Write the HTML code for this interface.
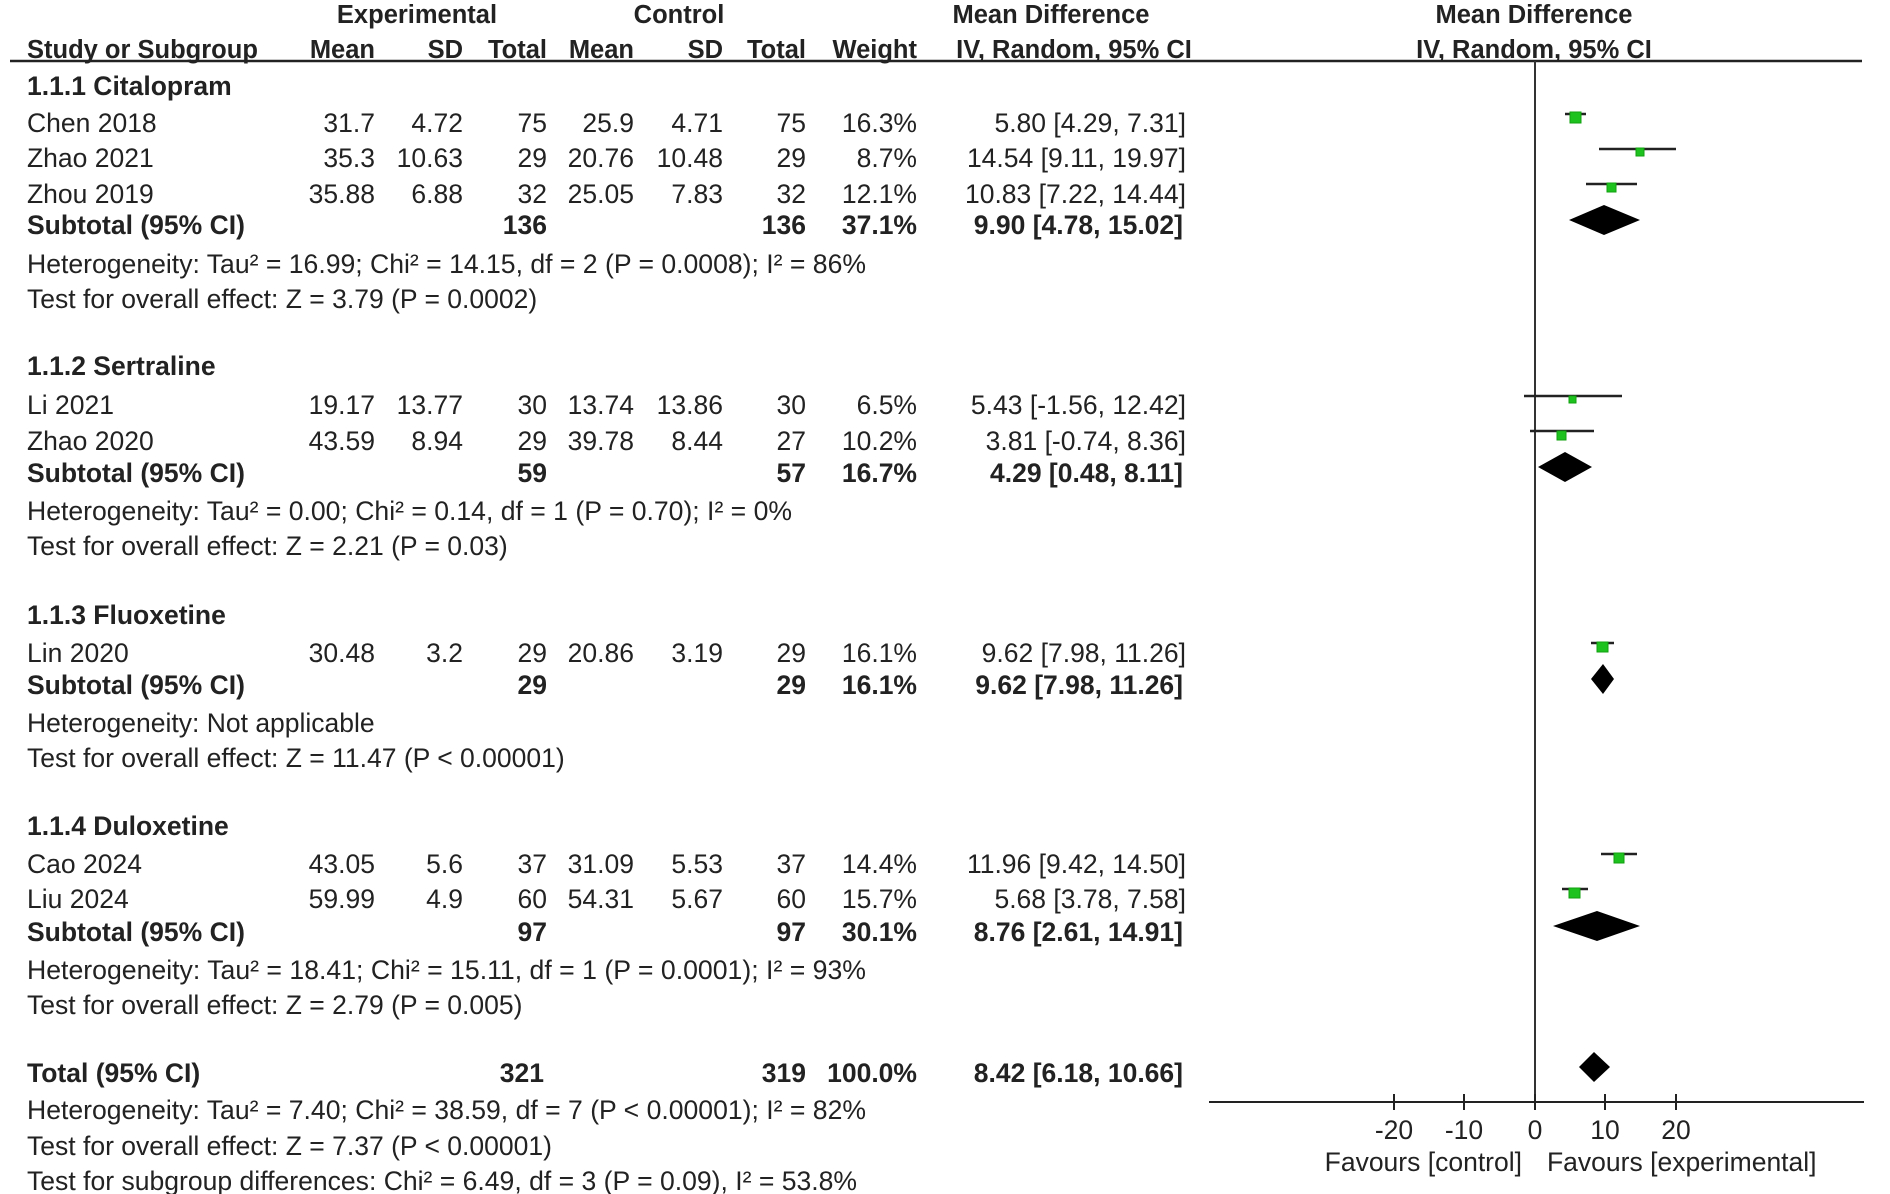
<!DOCTYPE html>
<html><head><meta charset="utf-8"><style>
html,body{margin:0;padding:0;background:#fff;}
svg{display:block;}
text{font-family:"Liberation Sans",Arial,sans-serif;font-size:26.5px;fill:#222;}
.b{font-weight:bold;}
.e{text-anchor:end;}
.m{text-anchor:middle;}
.s{font-size:25.5px;}
</style></head><body>
<svg width="1890" height="1194" viewBox="0 0 1890 1194" xmlns="http://www.w3.org/2000/svg">
<!-- headers -->
<text class="b m s" x="417" y="23">Experimental</text>
<text class="b m s" x="679" y="23">Control</text>
<text class="b m s" x="1051" y="23">Mean Difference</text>
<text class="b m s" x="1534" y="23">Mean Difference</text>
<text class="b s" x="27" y="58">Study or Subgroup</text>
<text class="b e s" x="375" y="58">Mean</text>
<text class="b e s" x="463" y="58">SD</text>
<text class="b e s" x="547" y="58">Total</text>
<text class="b e s" x="634" y="58">Mean</text>
<text class="b e s" x="723" y="58">SD</text>
<text class="b e s" x="806" y="58">Total</text>
<text class="b e s" x="917" y="58">Weight</text>
<text class="b m s" x="1074" y="58">IV, Random, 95% CI</text>
<text class="b m s" x="1534" y="58">IV, Random, 95% CI</text>
<line x1="10" y1="61" x2="1862" y2="61" stroke="#222" stroke-width="2.5"/>

<text class="b" x="27" y="95">1.1.1 Citalopram</text>
<text x="27" y="132">Chen 2018</text><text class="e" x="375" y="132">31.7</text><text class="e" x="463" y="132">4.72</text><text class="e" x="547" y="132">75</text><text class="e" x="634" y="132">25.9</text><text class="e" x="723" y="132">4.71</text><text class="e" x="806" y="132">75</text><text class="e" x="917" y="132">16.3%</text><text class="e" x="1186" y="132">5.80 [4.29, 7.31]</text>
<text x="27" y="167">Zhao 2021</text><text class="e" x="375" y="167">35.3</text><text class="e" x="463" y="167">10.63</text><text class="e" x="547" y="167">29</text><text class="e" x="634" y="167">20.76</text><text class="e" x="723" y="167">10.48</text><text class="e" x="806" y="167">29</text><text class="e" x="917" y="167">8.7%</text><text class="e" x="1186" y="167">14.54 [9.11, 19.97]</text>
<text x="27" y="203">Zhou 2019</text><text class="e" x="375" y="203">35.88</text><text class="e" x="463" y="203">6.88</text><text class="e" x="547" y="203">32</text><text class="e" x="634" y="203">25.05</text><text class="e" x="723" y="203">7.83</text><text class="e" x="806" y="203">32</text><text class="e" x="917" y="203">12.1%</text><text class="e" x="1186" y="203">10.83 [7.22, 14.44]</text>
<text class="b" x="27" y="234">Subtotal (95% CI)</text><text class="b e" x="547" y="234">136</text><text class="b e" x="806" y="234">136</text><text class="b e" x="917" y="234">37.1%</text><text class="b e" x="1183" y="234">9.90 [4.78, 15.02]</text>
<text x="27" y="273" textLength="839" lengthAdjust="spacingAndGlyphs">Heterogeneity: Tau² = 16.99; Chi² = 14.15, df = 2 (P = 0.0008); I² = 86%</text>
<text x="27" y="308">Test for overall effect: Z = 3.79 (P = 0.0002)</text>

<text class="b" x="27" y="375">1.1.2 Sertraline</text>
<text x="27" y="414">Li 2021</text><text class="e" x="375" y="414">19.17</text><text class="e" x="463" y="414">13.77</text><text class="e" x="547" y="414">30</text><text class="e" x="634" y="414">13.74</text><text class="e" x="723" y="414">13.86</text><text class="e" x="806" y="414">30</text><text class="e" x="917" y="414">6.5%</text><text class="e" x="1186" y="414">5.43 [-1.56, 12.42]</text>
<text x="27" y="450">Zhao 2020</text><text class="e" x="375" y="450">43.59</text><text class="e" x="463" y="450">8.94</text><text class="e" x="547" y="450">29</text><text class="e" x="634" y="450">39.78</text><text class="e" x="723" y="450">8.44</text><text class="e" x="806" y="450">27</text><text class="e" x="917" y="450">10.2%</text><text class="e" x="1186" y="450">3.81 [-0.74, 8.36]</text>
<text class="b" x="27" y="482">Subtotal (95% CI)</text><text class="b e" x="547" y="482">59</text><text class="b e" x="806" y="482">57</text><text class="b e" x="917" y="482">16.7%</text><text class="b e" x="1183" y="482">4.29 [0.48, 8.11]</text>
<text x="27" y="520" textLength="765" lengthAdjust="spacingAndGlyphs">Heterogeneity: Tau² = 0.00; Chi² = 0.14, df = 1 (P = 0.70); I² = 0%</text>
<text x="27" y="555">Test for overall effect: Z = 2.21 (P = 0.03)</text>

<text class="b" x="27" y="624">1.1.3 Fluoxetine</text>
<text x="27" y="662">Lin 2020</text><text class="e" x="375" y="662">30.48</text><text class="e" x="463" y="662">3.2</text><text class="e" x="547" y="662">29</text><text class="e" x="634" y="662">20.86</text><text class="e" x="723" y="662">3.19</text><text class="e" x="806" y="662">29</text><text class="e" x="917" y="662">16.1%</text><text class="e" x="1186" y="662">9.62 [7.98, 11.26]</text>
<text class="b" x="27" y="694">Subtotal (95% CI)</text><text class="b e" x="547" y="694">29</text><text class="b e" x="806" y="694">29</text><text class="b e" x="917" y="694">16.1%</text><text class="b e" x="1183" y="694">9.62 [7.98, 11.26]</text>
<text x="27" y="732">Heterogeneity: Not applicable</text>
<text x="27" y="767">Test for overall effect: Z = 11.47 (P &lt; 0.00001)</text>

<text class="b" x="27" y="835">1.1.4 Duloxetine</text>
<text x="27" y="873">Cao 2024</text><text class="e" x="375" y="873">43.05</text><text class="e" x="463" y="873">5.6</text><text class="e" x="547" y="873">37</text><text class="e" x="634" y="873">31.09</text><text class="e" x="723" y="873">5.53</text><text class="e" x="806" y="873">37</text><text class="e" x="917" y="873">14.4%</text><text class="e" x="1186" y="873">11.96 [9.42, 14.50]</text>
<text x="27" y="908">Liu 2024</text><text class="e" x="375" y="908">59.99</text><text class="e" x="463" y="908">4.9</text><text class="e" x="547" y="908">60</text><text class="e" x="634" y="908">54.31</text><text class="e" x="723" y="908">5.67</text><text class="e" x="806" y="908">60</text><text class="e" x="917" y="908">15.7%</text><text class="e" x="1186" y="908">5.68 [3.78, 7.58]</text>
<text class="b" x="27" y="941">Subtotal (95% CI)</text><text class="b e" x="547" y="941">97</text><text class="b e" x="806" y="941">97</text><text class="b e" x="917" y="941">30.1%</text><text class="b e" x="1183" y="941">8.76 [2.61, 14.91]</text>
<text x="27" y="979" textLength="839" lengthAdjust="spacingAndGlyphs">Heterogeneity: Tau² = 18.41; Chi² = 15.11, df = 1 (P = 0.0001); I² = 93%</text>
<text x="27" y="1014">Test for overall effect: Z = 2.79 (P = 0.005)</text>

<text class="b" x="27" y="1082">Total (95% CI)</text><text class="b e" x="544" y="1082">321</text><text class="b e" x="806" y="1082">319</text><text class="b e" x="917" y="1082">100.0%</text><text class="b e" x="1183" y="1082">8.42 [6.18, 10.66]</text>
<text x="27" y="1119" textLength="839" lengthAdjust="spacingAndGlyphs">Heterogeneity: Tau² = 7.40; Chi² = 38.59, df = 7 (P &lt; 0.00001); I² = 82%</text>
<text x="27" y="1155">Test for overall effect: Z = 7.37 (P &lt; 0.00001)</text>
<text x="27" y="1190" textLength="830" lengthAdjust="spacingAndGlyphs">Test for subgroup differences: Chi² = 6.49, df = 3 (P = 0.09), I² = 53.8%</text>

<!-- plot -->
<line x1="1535" y1="61" x2="1535" y2="1102" stroke="#333" stroke-width="2"/>
<line x1="1209" y1="1102" x2="1864" y2="1102" stroke="#222" stroke-width="2"/>
<g stroke="#222" stroke-width="2">
<line x1="1394" y1="1094" x2="1394" y2="1110"/><line x1="1464" y1="1094" x2="1464" y2="1110"/><line x1="1535" y1="1094" x2="1535" y2="1110"/><line x1="1605" y1="1094" x2="1605" y2="1110"/><line x1="1676" y1="1094" x2="1676" y2="1110"/>
</g>
<text class="m" x="1394" y="1139">-20</text><text class="m" x="1464" y="1139">-10</text><text class="m" x="1535" y="1139">0</text><text class="m" x="1605" y="1139">10</text><text class="m" x="1676" y="1139">20</text>
<text class="e" x="1522" y="1171">Favours [control]</text>
<text x="1547" y="1171">Favours [experimental]</text>

<g stroke="#222" stroke-width="2.5">
<line x1="1565" y1="114" x2="1586" y2="114"/>
<line x1="1599" y1="149" x2="1676" y2="149"/>
<line x1="1586" y1="184" x2="1637" y2="184"/>
<line x1="1524" y1="396" x2="1622" y2="396"/>
<line x1="1530" y1="431" x2="1594" y2="431"/>
<line x1="1591" y1="643" x2="1614" y2="643"/>
<line x1="1601" y1="854" x2="1637" y2="854"/>
<line x1="1562" y1="889" x2="1588" y2="889"/>
</g>
<g fill="#1ec21e" stroke="#11a011" stroke-width="1">
<rect x="1570" y="112" width="11" height="11"/>
<rect x="1636" y="148" width="8" height="8"/>
<rect x="1607" y="183" width="9" height="9"/>
<rect x="1569" y="396" width="7" height="7"/>
<rect x="1557" y="431" width="9" height="9"/>
<rect x="1597" y="642" width="11" height="10"/>
<rect x="1614" y="853" width="10" height="10"/>
<rect x="1569" y="888" width="11" height="10"/>
</g>
<g fill="#000">
<polygon points="1569,220 1604,205 1640,220 1604,235"/>
<polygon points="1538,467 1565,452 1592,467 1565,482"/>
<polygon points="1591,679 1603,664 1614,679 1603,694"/>
<polygon points="1553,926 1597,911 1640,926 1597,941"/>
<polygon points="1579,1067 1594,1052 1610,1067 1594,1082"/>
</g>
</svg>
</body></html>
